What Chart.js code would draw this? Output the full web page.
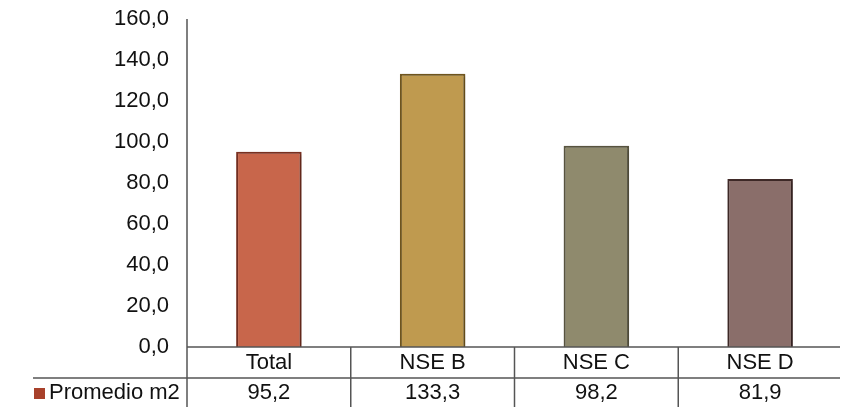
<!DOCTYPE html>
<html>
<head>
<meta charset="utf-8">
<script src="https://cdn.jsdelivr.net/npm/chart.js@4/dist/chart.umd.min.js"></script>
<style>
  html, body { margin: 0; padding: 0; background: #fff; }
  #wrap { width: 842px; height: 407px; }
</style>
</head>
<body>
<div id="wrap"><canvas id="chart"></canvas></div>
<script>
// --- data ---
const categories = ['Total', 'NSE B', 'NSE C', 'NSE D'];
const seriesName = 'Promedio m2';
const promedio = [95.2, 133.3, 98.2, 81.9];
const yTicks = [0, 20, 40, 60, 80, 100, 120, 140, 160];

const barColors = ['#c8664b', '#bf9a4f', '#8f8a6d', '#8a6e6a'];
const barBorders = ['#7d3222', '#73581f', '#5b5741', '#432c2a'];
const legendColor = '#a8412b';

const FONT = '"Liberation Sans", Arial, sans-serif';
const FONT_SIZE = 22;
const TABLE_H = 60;

const fmt = v => v.toFixed(1).replace('.', ',');

// shadow around bars
const barShadow = {
    id: 'barShadow',
    beforeDatasetsDraw(chart) {
        const ctx = chart.ctx;
        ctx.save();
        ctx.shadowColor = 'rgba(0,0,0,0.35)';
        ctx.shadowBlur = 4;
        ctx.shadowOffsetX = 1;
        ctx.shadowOffsetY = 1;
    },
    afterDatasetsDraw(chart) {
        chart.ctx.restore();
    }
};

// data table under the plot
const dataTable = {
    id: 'dataTable',
    afterDraw(chart) {
        const ctx = chart.ctx;
        const area = chart.chartArea;
        const x = chart.scales.x;
        const top = area.bottom;
        const mid = top + 31;
        const bottom = top + TABLE_H;
        const n = categories.length;
        const step = (area.right - area.left) / n;

        ctx.save();
        ctx.strokeStyle = '#555';
        ctx.lineWidth = 1.5;

        // y axis line, running down through the table
        ctx.beginPath();
        ctx.moveTo(area.left, area.top);
        ctx.lineTo(area.left, bottom);
        ctx.stroke();

        // top of table (category axis)
        ctx.beginPath();
        ctx.moveTo(area.left, top);
        ctx.lineTo(area.right - 2, top);
        ctx.stroke();

        // row separator
        ctx.beginPath();
        ctx.moveTo(33, mid);
        ctx.lineTo(area.right - 2, mid);
        ctx.stroke();

        // column separators
        for (let i = 1; i < n; i++) {
            const cx = area.left + step * i;
            ctx.beginPath();
            ctx.moveTo(cx, top);
            ctx.lineTo(cx, bottom);
            ctx.stroke();
        }

        ctx.fillStyle = '#111';
        ctx.font = FONT_SIZE + 'px ' + FONT;
        ctx.textAlign = 'center';
        ctx.textBaseline = 'middle';
        categories.forEach((c, i) => {
            const cx = x.getPixelForValue(i);
            ctx.fillText(c, cx, top + 16);
            ctx.fillText(fmt(promedio[i]), cx, mid + 15);
        });

        // legend key
        ctx.fillStyle = legendColor;
        ctx.fillRect(34, mid + 10, 11, 11);
        ctx.fillStyle = '#111';
        ctx.textAlign = 'left';
        ctx.fillText(seriesName, 49, mid + 15);
        ctx.restore();
    }
};

new Chart(document.getElementById('chart'), {
    type: 'bar',
    data: {
        labels: categories,
        datasets: [{
            label: seriesName,
            data: promedio,
            backgroundColor: barColors,
            borderColor: barBorders,
            borderWidth: 2,
            categoryPercentage: 1,
            barPercentage: 0.4
        }]
    },
    options: {
        responsive: true,
        maintainAspectRatio: false,
        animation: false,
        layout: { padding: { top: 0, right: 0, bottom: TABLE_H, left: 0 } },
        plugins: {
            legend: { display: false },
            tooltip: { enabled: false }
        },
        scales: {
            x: {
                ticks: { display: false },
                grid: { display: false, drawTicks: false },
                border: { display: false }
            },
            y: {
                min: 0,
                max: 160,
                afterBuildTicks: scale => {
                    scale.ticks = yTicks.map(v => ({ value: v }));
                },
                afterFit: scale => {
                    scale.width = 187;
                    scale.paddingTop = 19;
                    scale.paddingBottom = 0;
                },
                ticks: {
                    padding: 18,
                    color: '#111',
                    font: { family: FONT, size: FONT_SIZE },
                    callback: v => fmt(v)
                },
                grid: { display: false, drawTicks: false },
                border: { display: false }
            }
        }
    },
    plugins: [barShadow, dataTable]
});
</script>
</body>
</html>
